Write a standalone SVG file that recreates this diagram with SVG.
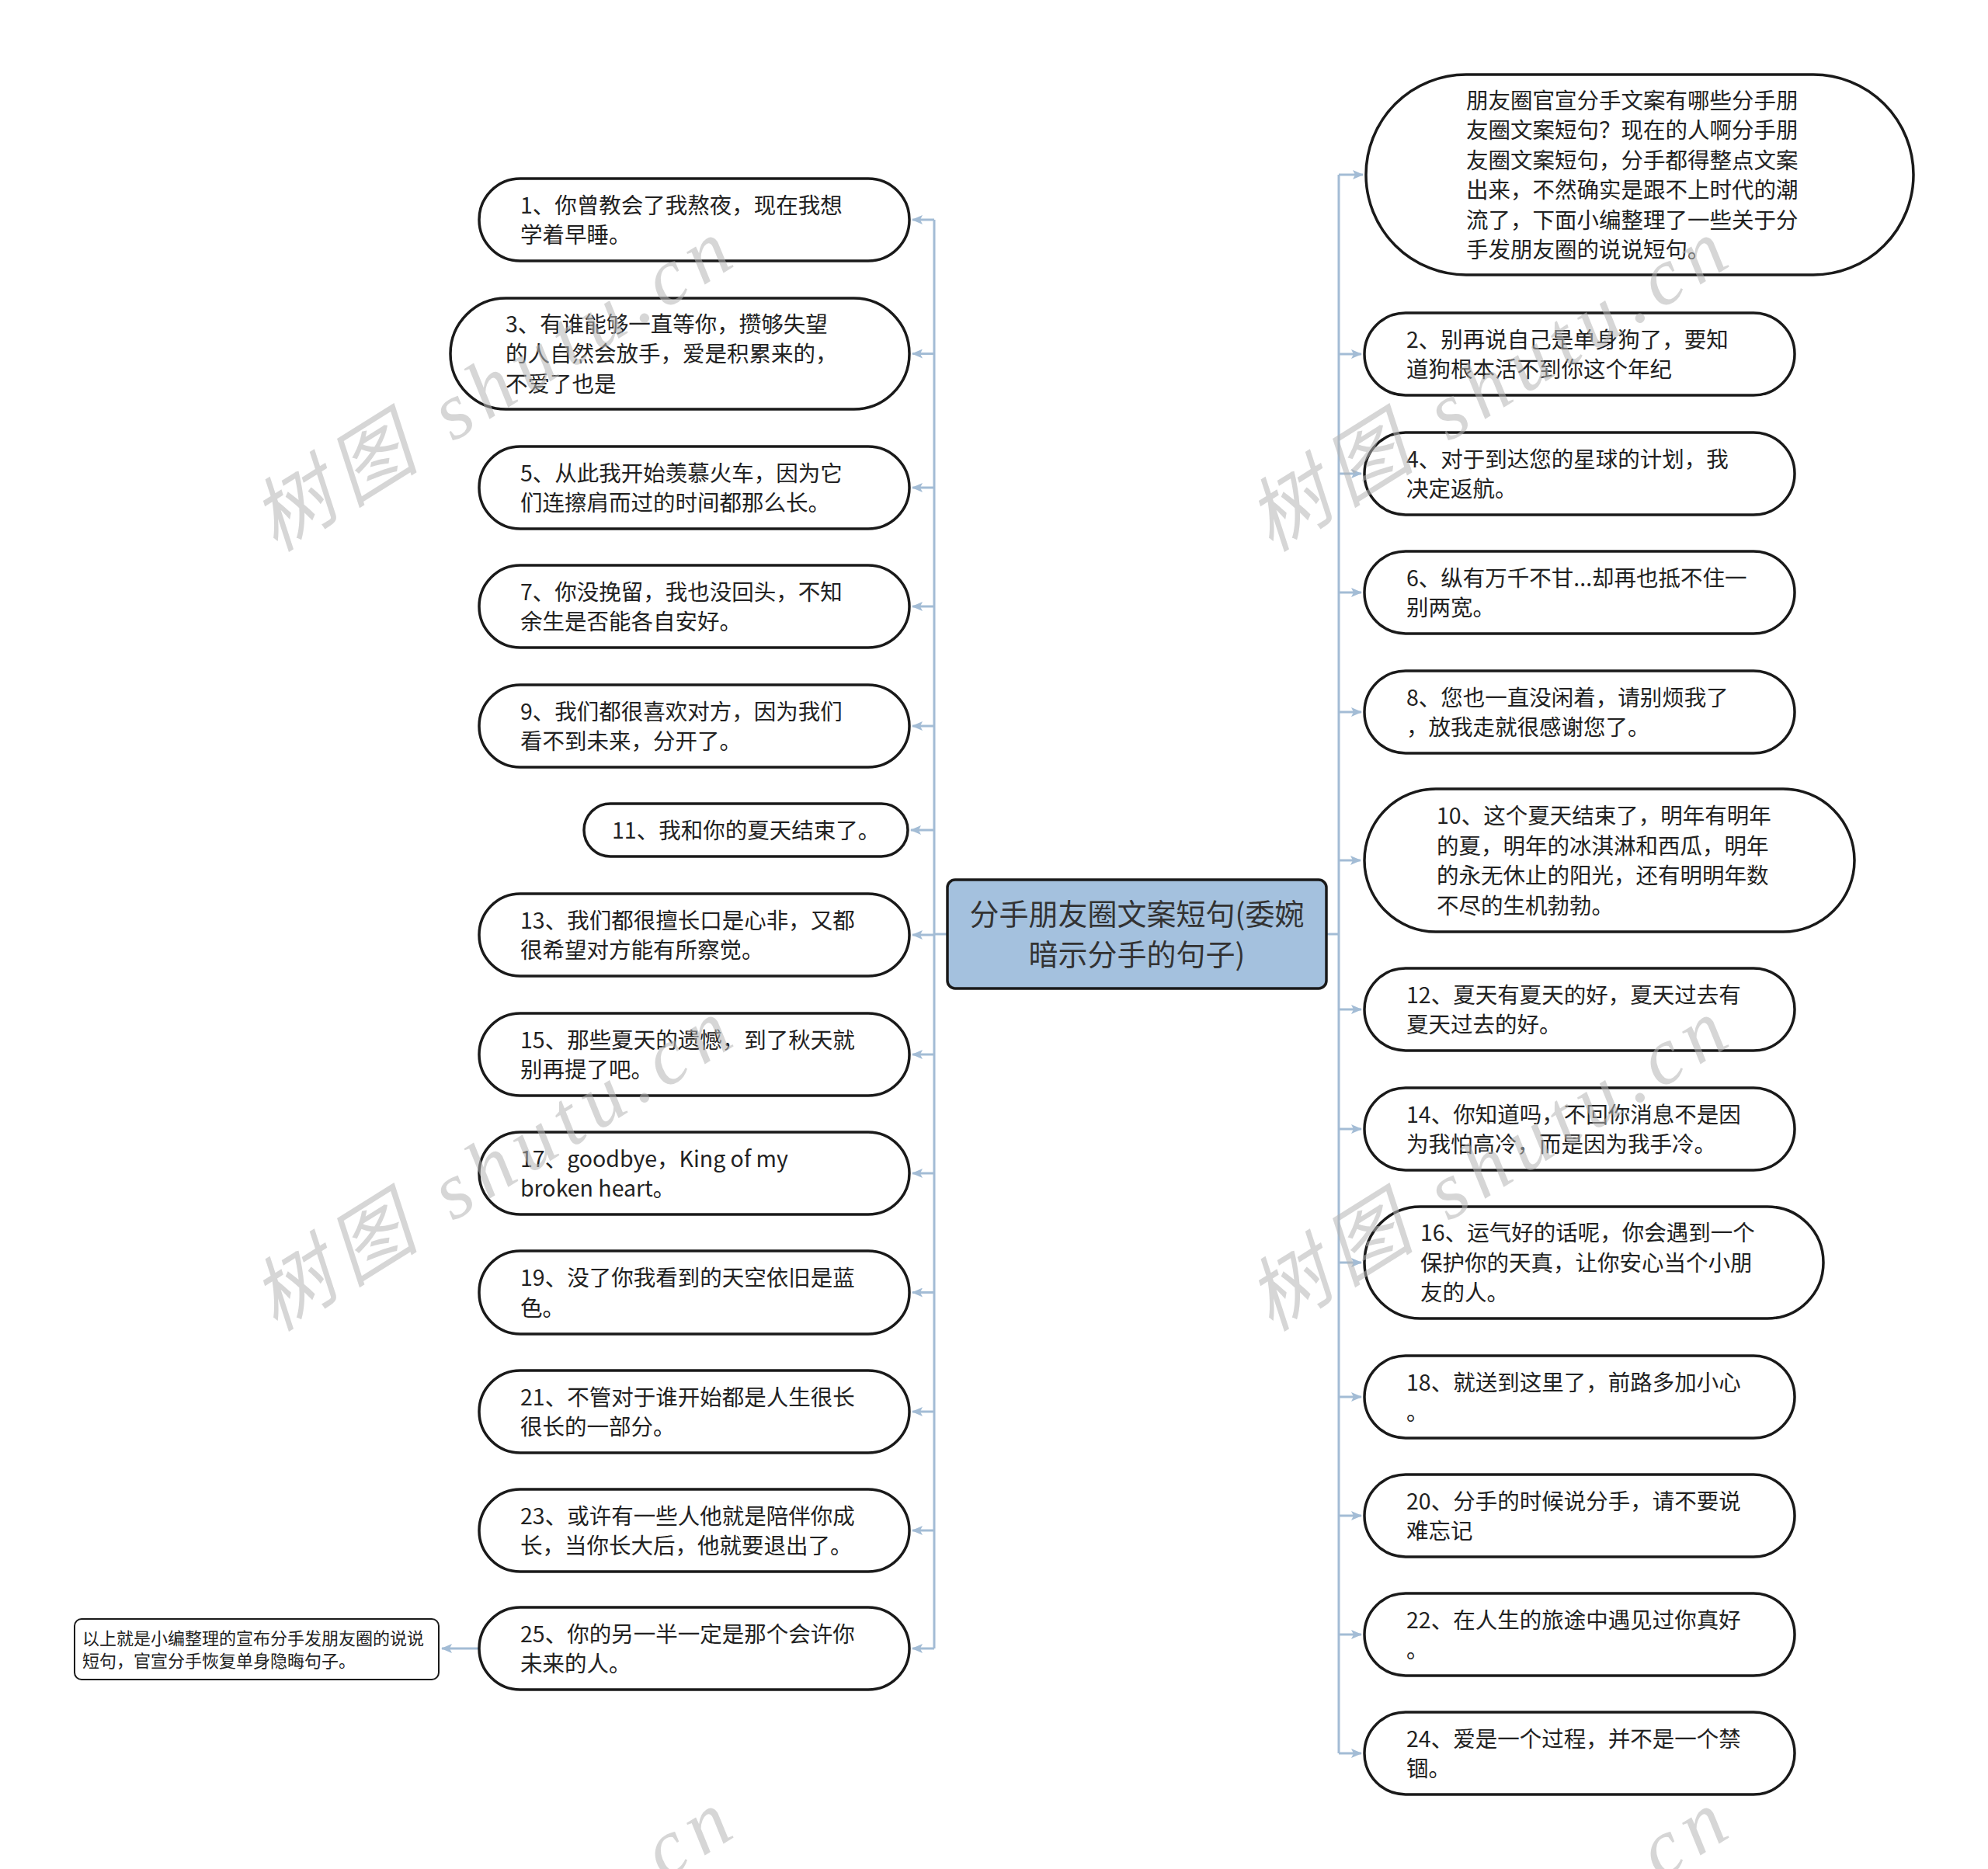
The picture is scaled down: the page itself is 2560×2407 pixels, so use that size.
<svg xmlns="http://www.w3.org/2000/svg" width="2560" height="2407" viewBox="0 0 2560 2407">
<style>
.bg{fill:#ffffff}
.node{fill:#ffffff;stroke:#1a1a1a;stroke-width:3.5}
.small{fill:#ffffff;stroke:#1a1a1a;stroke-width:2}
.root{fill:#a4c1de;stroke:#1a1a1a;stroke-width:3.5}
.t{font-family:"Noto Sans CJK SC","Noto Sans",sans-serif;font-size:28.5px;fill:#222222}
.ts{font-family:"Noto Sans CJK SC","Noto Sans",sans-serif;font-size:22px;fill:#222222}
.tr{font-family:"Noto Sans CJK SC","Noto Sans",sans-serif;font-size:38px;fill:#333333;text-anchor:middle}
.c{fill:none;stroke:#a3bcd5;stroke-width:3}
.wm{font-family:"Liberation Serif","Noto Sans CJK SC",serif;font-style:italic;font-size:104px;fill:#b5b5b5;opacity:0.55}
</style>
<defs>
<marker id="arr" viewBox="0 0 14 12" refX="13" refY="6" markerWidth="14" markerHeight="12" markerUnits="userSpaceOnUse" orient="auto">
<path d="M0,0 L14,6 L0,12 L3,6 z" fill="#a3bcd5"/>
</marker>
</defs>
<rect class="bg" x="0" y="0" width="2560" height="2407"/>

<g id="connectors">
<path class="c" d="M1220,1203 H1203"/>
<path class="c" d="M1203,283 V2123"/>
<path class="c" d="M1203,283 H1175" marker-end="url(#arr)"/>
<path class="c" d="M1203,455.5 H1175" marker-end="url(#arr)"/>
<path class="c" d="M1203,628 H1175" marker-end="url(#arr)"/>
<path class="c" d="M1203,781 H1175" marker-end="url(#arr)"/>
<path class="c" d="M1203,935 H1175" marker-end="url(#arr)"/>
<path class="c" d="M1203,1069 H1173" marker-end="url(#arr)"/>
<path class="c" d="M1203,1204 H1175" marker-end="url(#arr)"/>
<path class="c" d="M1203,1358 H1175" marker-end="url(#arr)"/>
<path class="c" d="M1203,1511 H1175" marker-end="url(#arr)"/>
<path class="c" d="M1203,1664.5 H1175" marker-end="url(#arr)"/>
<path class="c" d="M1203,1818 H1175" marker-end="url(#arr)"/>
<path class="c" d="M1203,1971 H1175" marker-end="url(#arr)"/>
<path class="c" d="M1203,2123 H1175" marker-end="url(#arr)"/>
<path class="c" d="M617,2123 H569" marker-end="url(#arr)"/>
<path class="c" d="M1708,1203 H1724"/>
<path class="c" d="M1724,225 V2258"/>
<path class="c" d="M1724,225 H1755" marker-end="url(#arr)"/>
<path class="c" d="M1724,456 H1753" marker-end="url(#arr)"/>
<path class="c" d="M1724,610 H1753" marker-end="url(#arr)"/>
<path class="c" d="M1724,763 H1753" marker-end="url(#arr)"/>
<path class="c" d="M1724,917 H1753" marker-end="url(#arr)"/>
<path class="c" d="M1724,1108 H1752" marker-end="url(#arr)"/>
<path class="c" d="M1724,1300 H1753" marker-end="url(#arr)"/>
<path class="c" d="M1724,1454 H1753" marker-end="url(#arr)"/>
<path class="c" d="M1724,1626 H1753" marker-end="url(#arr)"/>
<path class="c" d="M1724,1799 H1753" marker-end="url(#arr)"/>
<path class="c" d="M1724,1952 H1753" marker-end="url(#arr)"/>
<path class="c" d="M1724,2105 H1753" marker-end="url(#arr)"/>
<path class="c" d="M1724,2258 H1753" marker-end="url(#arr)"/>
</g>

<g id="root">
<rect class="root" x="1220" y="1133" width="488" height="140" rx="10"/>
<text class="tr" x="1464" y="1191">分手朋友圈文案短句(委婉</text>
<text class="tr" x="1464" y="1243">暗示分手的句子)</text>
</g>

<g id="n1"><rect class="node" x="617" y="230" width="554" height="106" rx="53"/>
<text class="t" x="670" y="274.5">1、你曾教会了我熬夜，现在我想</text>
<text class="t" x="670" y="313">学着早睡。</text></g>

<g id="n3"><rect class="node" x="580" y="384" width="591" height="143" rx="71.5"/>
<text class="t" x="651" y="427.8">3、有谁能够一直等你，攒够失望</text>
<text class="t" x="651" y="466.3">的人自然会放手，爱是积累来的，</text>
<text class="t" x="651" y="504.8">不爱了也是</text></g>

<g id="n5"><rect class="node" x="617" y="575" width="554" height="106" rx="53"/>
<text class="t" x="670" y="619.5">5、从此我开始羡慕火车，因为它</text>
<text class="t" x="670" y="658">们连擦肩而过的时间都那么长。</text></g>

<g id="n7"><rect class="node" x="617" y="728" width="554" height="106" rx="53"/>
<text class="t" x="670" y="772.5">7、你没挽留，我也没回头，不知</text>
<text class="t" x="670" y="811">余生是否能各自安好。</text></g>

<g id="n9"><rect class="node" x="617" y="882" width="554" height="106" rx="53"/>
<text class="t" x="670" y="926.5">9、我们都很喜欢对方，因为我们</text>
<text class="t" x="670" y="965">看不到未来，分开了。</text></g>

<g id="n11"><rect class="node" x="752" y="1035" width="417" height="68" rx="34"/>
<text class="t" x="788" y="1079.8">11、我和你的夏天结束了。</text></g>

<g id="n13"><rect class="node" x="617" y="1151" width="554" height="106" rx="53"/>
<text class="t" x="670" y="1195.5">13、我们都很擅长口是心非，又都</text>
<text class="t" x="670" y="1234">很希望对方能有所察觉。</text></g>

<g id="n15"><rect class="node" x="617" y="1305" width="554" height="106" rx="53"/>
<text class="t" x="670" y="1349.5">15、那些夏天的遗憾，到了秋天就</text>
<text class="t" x="670" y="1388">别再提了吧。</text></g>

<g id="n17"><rect class="node" x="617" y="1458" width="554" height="106" rx="53"/>
<text class="t" x="670" y="1502.5">17、goodbye，King of my</text>
<text class="t" x="670" y="1541">broken heart。</text></g>

<g id="n19"><rect class="node" x="617" y="1611" width="554" height="107" rx="53"/>
<text class="t" x="670" y="1656">19、没了你我看到的天空依旧是蓝</text>
<text class="t" x="670" y="1694.5">色。</text></g>

<g id="n21"><rect class="node" x="617" y="1765" width="554" height="106" rx="53"/>
<text class="t" x="670" y="1809.5">21、不管对于谁开始都是人生很长</text>
<text class="t" x="670" y="1848">很长的一部分。</text></g>

<g id="n23"><rect class="node" x="617" y="1918" width="554" height="106" rx="53"/>
<text class="t" x="670" y="1962.5">23、或许有一些人他就是陪伴你成</text>
<text class="t" x="670" y="2001">长，当你长大后，他就要退出了。</text></g>

<g id="n25"><rect class="node" x="617" y="2070" width="554" height="106" rx="53"/>
<text class="t" x="670" y="2114.5">25、你的另一半一定是那个会许你</text>
<text class="t" x="670" y="2153">未来的人。</text></g>

<g id="n_end"><rect class="small" x="96" y="2085" width="469" height="78" rx="9"/>
<text class="ts" x="106" y="2117.5">以上就是小编整理的宣布分手发朋友圈的说说</text>
<text class="ts" x="106" y="2146.5">短句，官宣分手恢复单身隐晦句子。</text></g>

<g id="n_intro"><rect class="node" x="1759" y="96" width="705" height="258" rx="129"/>
<text class="t" x="1888" y="139.5">朋友圈官宣分手文案有哪些分手朋</text>
<text class="t" x="1888" y="178">友圈文案短句？现在的人啊分手朋</text>
<text class="t" x="1888" y="216.5">友圈文案短句，分手都得整点文案</text>
<text class="t" x="1888" y="255">出来，不然确实是跟不上时代的潮</text>
<text class="t" x="1888" y="293.5">流了，下面小编整理了一些关于分</text>
<text class="t" x="1888" y="332">手发朋友圈的说说短句。</text></g>

<g id="n2"><rect class="node" x="1757" y="403" width="554" height="106" rx="53"/>
<text class="t" x="1811" y="447.5">2、别再说自己是单身狗了，要知</text>
<text class="t" x="1811" y="486">道狗根本活不到你这个年纪</text></g>

<g id="n4"><rect class="node" x="1757" y="557" width="554" height="106" rx="53"/>
<text class="t" x="1811" y="601.5">4、对于到达您的星球的计划，我</text>
<text class="t" x="1811" y="640">决定返航。</text></g>

<g id="n6"><rect class="node" x="1757" y="710" width="554" height="106" rx="53"/>
<text class="t" x="1811" y="754.5">6、纵有万千不甘...却再也抵不住一</text>
<text class="t" x="1811" y="793">别两宽。</text></g>

<g id="n8"><rect class="node" x="1757" y="864" width="554" height="106" rx="53"/>
<text class="t" x="1811" y="908.5">8、您也一直没闲着，请别烦我了</text>
<text class="t" x="1811" y="947">，放我走就很感谢您了。</text></g>

<g id="n10"><rect class="node" x="1757" y="1016" width="631" height="184" rx="92"/>
<text class="t" x="1850" y="1061">10、这个夏天结束了，明年有明年</text>
<text class="t" x="1850" y="1099.5">的夏，明年的冰淇淋和西瓜，明年</text>
<text class="t" x="1850" y="1138">的永无休止的阳光，还有明明年数</text>
<text class="t" x="1850" y="1176.5">不尽的生机勃勃。</text></g>

<g id="n12"><rect class="node" x="1757" y="1247" width="554" height="106" rx="53"/>
<text class="t" x="1811" y="1291.5">12、夏天有夏天的好，夏天过去有</text>
<text class="t" x="1811" y="1330">夏天过去的好。</text></g>

<g id="n14"><rect class="node" x="1757" y="1401" width="554" height="106" rx="53"/>
<text class="t" x="1811" y="1445.5">14、你知道吗，不回你消息不是因</text>
<text class="t" x="1811" y="1484">为我怕高冷，而是因为我手冷。</text></g>

<g id="n16"><rect class="node" x="1757" y="1554" width="591" height="144" rx="72"/>
<text class="t" x="1829" y="1598.3">16、运气好的话呢，你会遇到一个</text>
<text class="t" x="1829" y="1636.8">保护你的天真，让你安心当个小朋</text>
<text class="t" x="1829" y="1675.3">友的人。</text></g>

<g id="n18"><rect class="node" x="1757" y="1746" width="554" height="106" rx="53"/>
<text class="t" x="1811" y="1790.5">18、就送到这里了，前路多加小心</text>
<text class="t" x="1811" y="1829">。</text></g>

<g id="n20"><rect class="node" x="1757" y="1899" width="554" height="106" rx="53"/>
<text class="t" x="1811" y="1943.5">20、分手的时候说分手，请不要说</text>
<text class="t" x="1811" y="1982">难忘记</text></g>

<g id="n22"><rect class="node" x="1757" y="2052" width="554" height="106" rx="53"/>
<text class="t" x="1811" y="2096.5">22、在人生的旅途中遇见过你真好</text>
<text class="t" x="1811" y="2135">。</text></g>

<g id="n24"><rect class="node" x="1757" y="2205" width="554" height="106" rx="53"/>
<text class="t" x="1811" y="2249.5">24、爱是一个过程，并不是一个禁</text>
<text class="t" x="1811" y="2288">锢。</text></g>

<g id="watermarks">
<text class="wm" transform="translate(355,712) rotate(-32)" textLength="700" lengthAdjust="spacing">树图 shutu.cn</text>
<text class="wm" transform="translate(1637,712) rotate(-32)" textLength="700" lengthAdjust="spacing">树图 shutu.cn</text>
<text class="wm" transform="translate(355,1716) rotate(-32)" textLength="700" lengthAdjust="spacing">树图 shutu.cn</text>
<text class="wm" transform="translate(1637,1716) rotate(-32)" textLength="700" lengthAdjust="spacing">树图 shutu.cn</text>
<text class="wm" transform="translate(355,2735) rotate(-32)" textLength="700" lengthAdjust="spacing">树图 shutu.cn</text>
<text class="wm" transform="translate(1637,2735) rotate(-32)" textLength="700" lengthAdjust="spacing">树图 shutu.cn</text>
</g>
</svg>
